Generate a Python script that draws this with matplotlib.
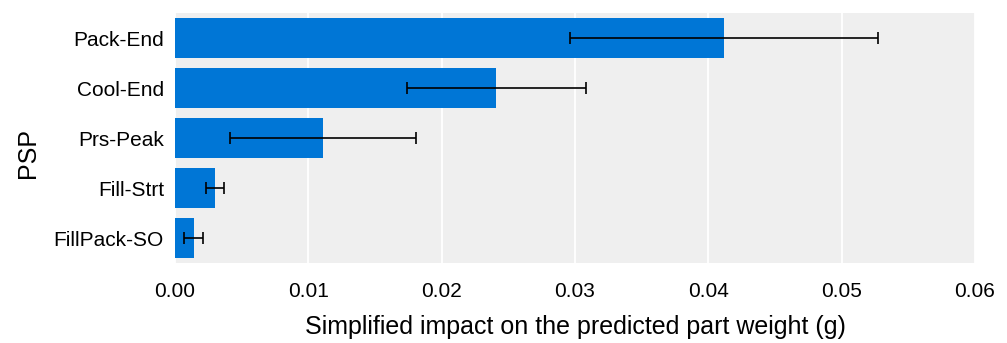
import matplotlib
matplotlib.use('Agg')
import matplotlib.pyplot as plt

params = ['Pack-End', 'Cool-End', 'Prs-Peak', 'Fill-Strt', 'FillPack-SO']
impact = [0.0412, 0.0241, 0.0111, 0.00297, 0.0014]
err = [0.01155, 0.0067, 0.00695, 0.00068, 0.0007]
xticks = [0.00, 0.01, 0.02, 0.03, 0.04, 0.05, 0.06]

plt.rcParams['font.family'] = ['Liberation Sans', 'DejaVu Sans']

fig = plt.figure(figsize=(10.07, 3.43), dpi=100)
ax = fig.add_axes([175 / 1007, 80 / 343, 800 / 1007, 250 / 343])
ax.set_facecolor('#efefef')

ypos = list(range(len(params)))
ax.barh(ypos, impact, height=0.8, color='#0076d6', zorder=2)
ax.errorbar(impact, ypos, xerr=err, fmt='none', ecolor='black',
            elinewidth=1.2, capsize=4, capthick=1.2, zorder=3)

ax.set_yticks(ypos)
ax.set_yticklabels(params, fontsize=15)
ax.set_ylim(len(params) - 0.5, -0.5)
ax.set_xlim(0, 0.06)
ax.set_xticks(xticks)
ax.set_xticklabels([f'{t:.2f}' for t in xticks], fontsize=15)
ax.tick_params(axis='y', length=0, pad=8)
ax.tick_params(axis='x', length=0, pad=14)
ax.xaxis.grid(True, color='white', linewidth=1.3, zorder=1)
ax.set_axisbelow(True)
for s in ax.spines.values():
    s.set_visible(False)

ax.set_xlabel('Simplified impact on the predicted part weight (g)', fontsize=18, labelpad=10)
ax.set_ylabel('PSP', fontsize=18, labelpad=10, y=0.44)

fig.savefig('out.png', dpi=100)
